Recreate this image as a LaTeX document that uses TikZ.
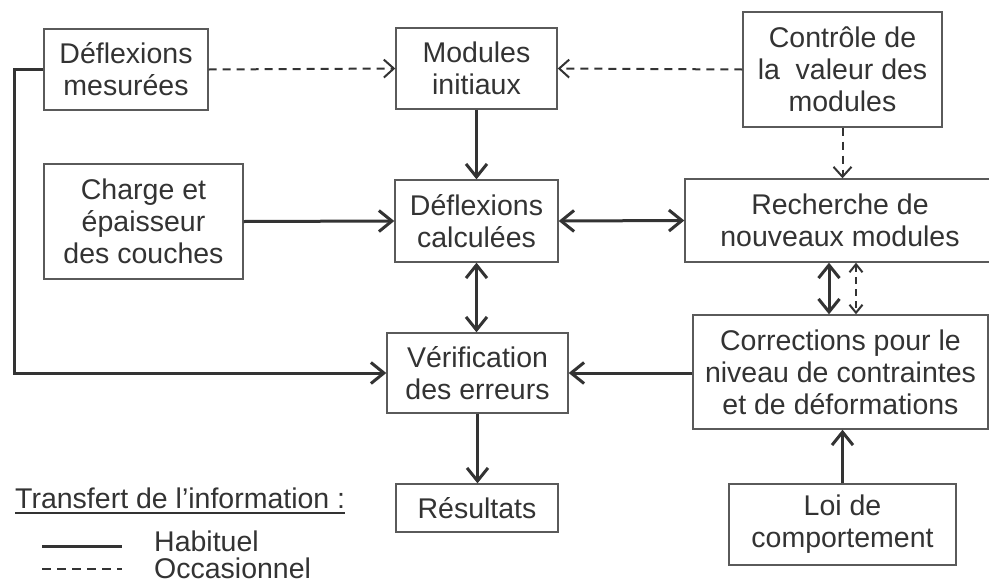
\documentclass[tikz,border=0pt]{standalone}
\usepackage{fontspec}
\setmainfont{Liberation Sans}
\usetikzlibrary{arrows.meta}
\definecolor{ink}{HTML}{333333}
\definecolor{boxline}{HTML}{5A5A5A}
\tikzset{
  box/.style={draw=boxline, line width=1.4pt, rectangle, inner sep=0pt, align=center,
    text=ink, font=\fontsize{28.5}{32}\selectfont},
  solidarrow/.style={draw=ink, line width=3pt, -{Straight Barb[length=13pt,width=21pt]}},
  solidboth/.style={draw=ink, line width=3pt, {Straight Barb[length=13pt,width=21pt]}-{Straight Barb[length=13pt,width=21pt]}},
  dasharrow/.style={draw=ink, line width=2pt, dash pattern=on 8pt off 6pt, -{Straight Barb[length=10pt,width=18pt]}},
  smalldashboth/.style={draw=ink, line width=2pt, dash pattern=on 7pt off 5pt, {Straight Barb[length=8pt,width=13pt]}-{Straight Barb[length=8pt,width=13pt]}},
  legtext/.style={text=ink, font=\fontsize{28.5}{32}\selectfont, inner sep=0pt},
}
\begin{document}
\begin{tikzpicture}[x=1pt,y=-1pt]
\useasboundingbox[fill=white] (0,0) rectangle (989,587);
% boxes
\node[box, minimum width=164pt, minimum height=81pt] (mes) at (126,69.5) {Déflexions\\mesurées};
\node[box, minimum width=161pt, minimum height=81pt] (mod) at (476.5,68.5) {Modules\\initiaux};
\node[box, minimum width=199pt, minimum height=115pt] (ctrl) at (842.5,69.5) {Contrôle de\\la\ \ valeur des\\modules};
\node[box, minimum width=199pt, minimum height=115pt] (charge) at (143.5,221.5) {Charge et\\épaisseur\\des couches};
\node[box, minimum width=310pt, minimum height=83pt] (rech) at (840,220.5) {Recherche de\\nouveaux modules};
\node[box, minimum width=163pt, minimum height=82pt] (dcalc) at (476.5,221) {Déflexions\\calculées};
\node[box, minimum width=295pt, minimum height=114pt] (corr) at (840.5,372) {Corrections pour le\\niveau de contraintes\\et de déformations};
\node[box, minimum width=181pt, minimum height=80pt] (verif) at (477.5,373) {Vérification\\des erreurs};
\node[box, minimum width=162pt, minimum height=48pt] (res) at (477,508) {Résultats};
\node[box, minimum width=227pt, minimum height=81pt] (loi) at (842.5,524.5) {Loi de\\comportement};
% connectors
\draw[dasharrow] (mes.east) -- (mod.west);
\draw[dasharrow] (ctrl.west) -- (mod.east);
\draw[dasharrow] (ctrl.south) -- (ctrl.south |- rech.north);
\draw[solidarrow] (mod.south) -- (dcalc.north);
\draw[solidarrow] (charge.east) -- (dcalc.west);
\draw[solidboth] (dcalc.east) -- (rech.west);
\draw[solidboth] (dcalc.south) -- (dcalc.south |- verif.north);
\coordinate (sx) at (829,0);
\coordinate (dx) at (856,0);
\draw[solidboth] (rech.south -| sx) -- (corr.north -| sx);
\draw[smalldashboth] (rech.south -| dx) -- (corr.north -| dx);
\draw[solidarrow] (corr.west |- verif.east) -- (verif.east);
\draw[solidarrow] (verif.south) -- (verif.south |- res.north);
\draw[solidarrow] (loi.north) -- (loi.north |- corr.south);
\draw[solidarrow] (mes.west) -- ++(-29,0) |- (verif.west);
% legend
\node[legtext, anchor=base west] (legtitle) at (15,508) {Transfert de l’information :};
\draw[draw=ink, line width=1.3pt] ([yshift=-5pt]legtitle.base west) -- ([yshift=-5pt]legtitle.base east);
\node[legtext, anchor=west] (hab) at (154,541) {Habituel};
\node[legtext, anchor=west] (occ) at (154,568) {Occasionnel};
\coordinate (h1) at (42,546);
\coordinate (h2) at (122,546);
\coordinate (o1) at (42,569);
\coordinate (o2) at (122,569);
\draw[draw=ink, line width=3pt] (h1) -- (h2);
\draw[draw=ink, line width=1.6pt, dash pattern=on 9pt off 6pt] (o1) -- (o2);
\end{tikzpicture}
\end{document}
